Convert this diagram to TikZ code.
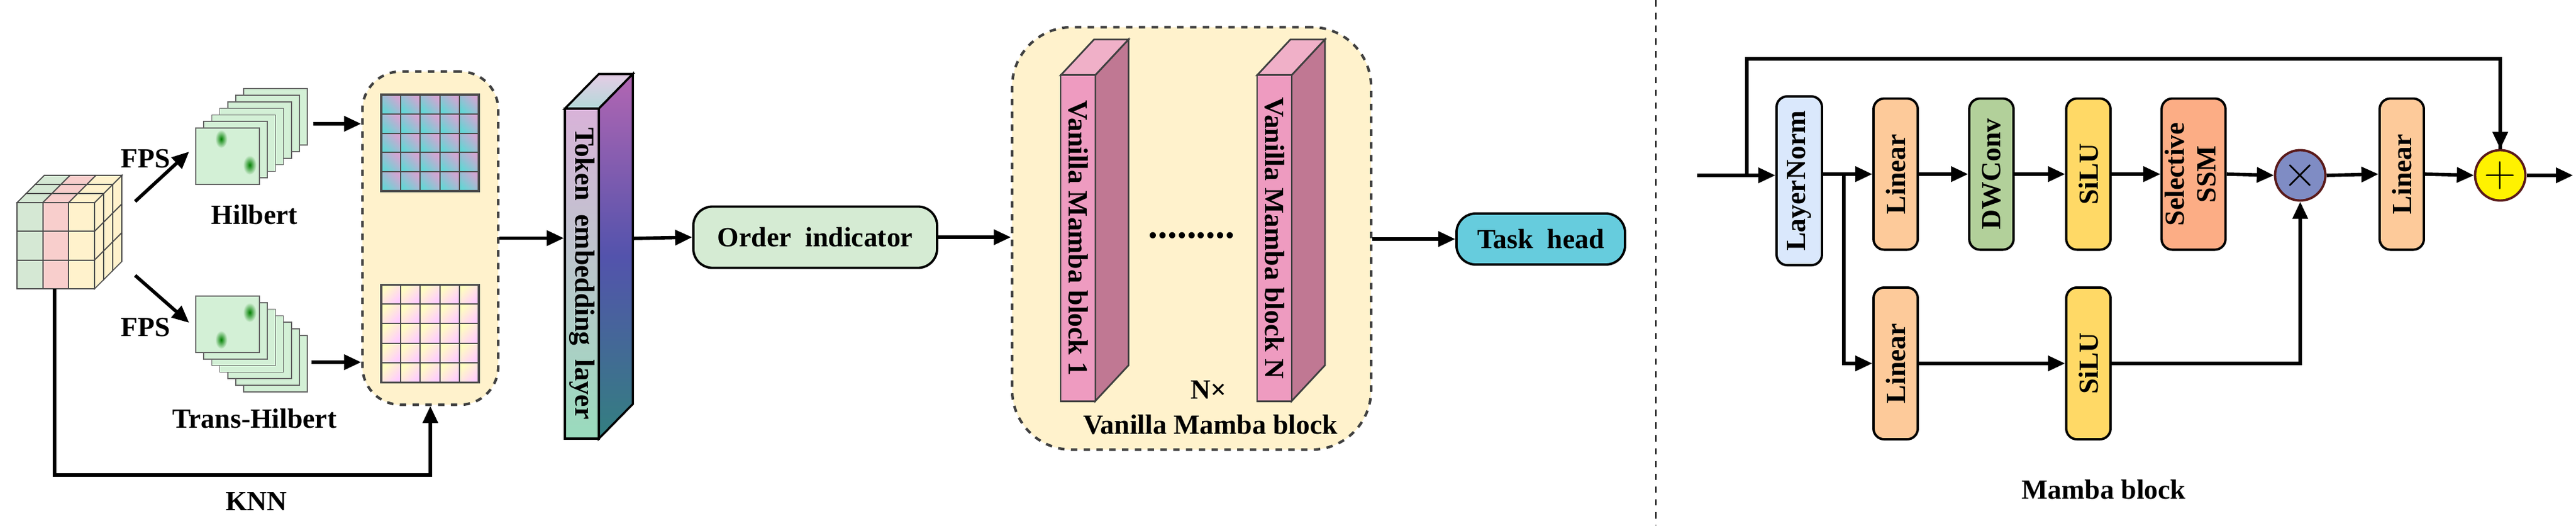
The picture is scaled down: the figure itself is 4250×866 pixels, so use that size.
\documentclass[tikz,border=0pt]{standalone}
\usepackage{fontspec}
\setmainfont{Liberation Serif}
\usetikzlibrary{arrows.meta,shapes.geometric}
\definecolor{cg}{HTML}{D5E8D4}
\definecolor{cp}{HTML}{F8CECC}
\definecolor{cy}{HTML}{FFF2CC}
\definecolor{card}{HTML}{D3F0D6}
\definecolor{mf}{HTML}{EE9BC0}
\definecolor{ms}{HTML}{C07893}
\definecolor{mt}{HTML}{F0B0C8}
\definecolor{lnc}{HTML}{DAE8FC}
\definecolor{linc}{HTML}{FDCA9A}
\definecolor{dwc}{HTML}{B2D09A}
\definecolor{siluc}{HTML}{FFD966}
\definecolor{ssmc}{HTML}{FCAD85}
\definecolor{mulc}{HTML}{7F8CC4}
\definecolor{taskc}{HTML}{66CCDD}
\definecolor{ordc}{HTML}{D5EBD3}
\definecolor{dred}{HTML}{5A1A1A}
\tikzset{
  every node/.style={font=\fontsize{13}{15}\selectfont\bfseries},
  arr/.style={line width=1.6pt,-{Triangle[length=8pt,width=7pt]}},
  ln/.style={line width=1.6pt},
  cell/.style={draw=black!70,line width=0.5pt},
  dbox/.style={draw=black!75,dashed,line width=1.2pt,fill=cy},
  blk/.style={draw=black,line width=1.1pt,rounded corners=5pt,inner sep=0pt},
  card/.style={draw=black!60,line width=0.5pt,fill=card},
}
\begin{document}
\begin{tikzpicture}[x=0.01cm,y=-0.01cm]
\useasboundingbox (0,0) rectangle (4250,866);

% ---------- cube ----------
\def\cw{42.67}\def\ch{47.33}
\foreach \i/\c in {0/cg,1/cp,2/cy}{
  \foreach \j in {0,1,2}{
    \draw[cell,fill=\c] (28+\i*\cw,334+\j*\ch) rectangle ++(\cw,\ch);
    \draw[cell,fill=\c] (28+\i*\cw+\j*15,334-\j*15) -- ++(\cw,0) -- ++(15,-15) -- ++(-\cw,0) -- cycle;
    \draw[cell,fill=cy] (156+\j*15,334+\i*\ch-\j*15) -- ++(15,-15) -- ++(0,\ch) -- ++(-15,15) -- cycle;
  }}
\coordinate (cubeU) at (223,332);
\coordinate (cubeD) at (223,454);
\coordinate (cubeB) at (90,476);

% ---------- heat-map stacks ----------
\foreach \k in {6,5,...,1}{
  \draw[card] (323+\k*13.2,211-\k*10.8) rectangle ++(105,93);
  \shade[inner color=green!45!black,outer color=card] (405+\k*13.2,250-\k*10.8) ellipse (6 and 22);
}
\draw[card] (323,211) rectangle ++(105,93);
\node[inner sep=0pt,minimum width=1.05cm,minimum height=0.93cm] (hil) at (375.5,257.5) {};
\shade[inner color=green!50!black,outer color=card] (365,229) ellipse (10 and 15);
\shade[inner color=green!50!black,outer color=card] (412,272) ellipse (11 and 16);
\foreach \k in {6,5,...,1}{
  \draw[card] (323+\k*13.2,488+\k*10.8) rectangle ++(105,93);
  \shade[inner color=green!45!black,outer color=card] (405+\k*13.2,530+\k*10.8) ellipse (6 and 22);
}
\draw[card] (323,488) rectangle ++(105,93);
\node[inner sep=0pt,minimum width=1.05cm,minimum height=0.93cm] (thil) at (375.5,534.5) {};
\shade[inner color=green!50!black,outer color=card] (365,560) ellipse (10 and 15);
\shade[inner color=green!50!black,outer color=card] (412,515) ellipse (11 and 16);
\node (lh) at (420,354) {Hilbert};
\node (lth) at (420,690) {Trans-Hilbert};
\node (fps1) at (240,262) {FPS};
\node (fps2) at (240,540) {FPS};
\draw[arr] (cubeU) -- (312,250);
\draw[arr] (cubeD) -- (312,532);

% ---------- dashed box 1 with grids ----------
\node[dbox,rounded corners=18pt,minimum width=2.24cm,minimum height=5.49cm] (box1) at (710,392.5) {};
\foreach \i in {0,...,4}{\foreach \j in {0,...,4}{
  \shade[left color=violet!35,right color=cyan!45!teal!60,shading angle=-45,draw=black!70,line width=0.6pt]
    (629+\i*32.2,156+\j*31.8) rectangle ++(32.2,31.8);
  \shade[left color=yellow!25,right color=magenta!20,shading angle=45,draw=black!70,line width=0.6pt]
    (629+\i*32.2,469+\j*32.2) rectangle ++(32.2,32.2);
}}
\node[draw=black!70,line width=1pt,inner sep=0pt,minimum width=1.61cm,minimum height=1.59cm] (g1) at (709.5,235.5) {};
\node[draw=black!70,line width=1pt,inner sep=0pt,minimum width=1.61cm,minimum height=1.61cm] (g2) at (709.5,550) {};
\draw[arr] (517,204) -- (box1.west |- 0,204);
\draw[arr] (514,597) -- (box1.west |- 0,597);
\draw[arr] (cubeB) -- (90,783) -| (box1.south);
\node (knn) at (423,827) {KNN};

% ---------- token embedding layer ----------
\fill[top color=violet!20!white,bottom color=teal!30] (932,179) -- ++(56,-57) -- ++(56,0) -- ++(-56,57) -- cycle;
\draw[line width=1pt] (932,179) -- ++(56,-57) -- ++(56,0) -- ++(-56,57) -- cycle;
\shade[top color=violet!60!white,bottom color=teal!60!gray,middle color=blue!35!gray] (988,179) -- ++(56,-57) -- ++(0,544) -- ++(-56,57) -- cycle;
\draw[line width=1pt] (988,179) -- ++(56,-57) -- ++(0,544) -- ++(-56,57) -- cycle;
\shade[top color=violet!30,middle color=cyan!40!blue!40,bottom color=green!30!teal!40] (932,179) rectangle (988,723);
\node[draw,line width=1pt,inner sep=0pt,minimum width=0.56cm,minimum height=5.44cm] (tok) at (960,451) {\rotatebox{-90}{Token\ \ embedding\ \ layer}};
\draw[arr] (box1.east) -- (box1.east -| tok.west);
\coordinate (tokr) at (1044,393);

% ---------- order indicator ----------
\node[blk,rounded corners=9pt,fill=ordc,minimum width=4.02cm,minimum height=1.01cm] (ord) at (1345,391) {Order\ \ indicator};
\draw[arr] (tokr) -- (ord.west);

% ---------- dashed box 2 ----------
\node[dbox,rounded corners=28pt,minimum width=5.92cm,minimum height=6.96cm] (box2) at (1966,393) {};
\foreach \x/\nm/\t in {1750/b1/{Vanilla Mamba block 1},2074/bN/{Vanilla Mamba block N}}{
  \fill[mt,draw=black!75,line width=0.8pt] (\x,124) -- ++(55,-59) -- ++(57,0) -- ++(-55,59) -- cycle;
  \fill[ms,draw=black!75,line width=0.8pt] (\x+57,124) -- ++(55,-59) -- ++(0,537) -- ++(-55,59) -- cycle;
  \node[fill=mf,draw=black!75,line width=0.8pt,inner sep=0pt,minimum width=0.57cm,minimum height=5.37cm] (\nm) at (\x+28.5,392.5) {\rotatebox{-90}{\t}};
}
\node (dots) at (1966,388) {\fontsize{18}{18}\selectfont .........};
\node (nx) at (1994,643) {N×};
\node (vmb) at (1997,700) {Vanilla Mamba block};
\draw[arr] (ord.east) -- (box2.west |- ord.east);

% ---------- task head ----------
\node[blk,rounded corners=9pt,fill=taskc,minimum width=2.78cm,minimum height=0.84cm] (task) at (2542,394) {Task\ \ head};
\draw[arr] (box2.east |- task.west) -- (task.west);

% ---------- separator ----------
\draw[dashed,line width=0.7pt] (2732,0) -- (2732,866);

% ---------- Mamba block ----------
\node[blk,fill=lnc,minimum width=0.75cm,minimum height=2.78cm] (lnorm) at (2968.5,298) {\rotatebox{90}{LayerNorm}};
\node[blk,fill=linc,minimum width=0.73cm,minimum height=2.49cm] (lin1) at (3127.5,287) {\rotatebox{90}{Linear}};
\node[blk,fill=dwc,minimum width=0.73cm,minimum height=2.49cm] (dw) at (3285.5,287) {\rotatebox{90}{DWConv}};
\node[blk,fill=siluc,minimum width=0.73cm,minimum height=2.49cm] (silu1) at (3445.5,287) {\rotatebox{90}{SiLU}};
\node[blk,fill=ssmc,minimum width=1.04cm,minimum height=2.49cm] (ssm) at (3619,287) {\rotatebox{90}{\begin{tabular}{@{}c@{}}Selective\\SSM\end{tabular}}};
\node[circle,draw=dred,line width=1.1pt,fill=mulc,minimum size=0.83cm,inner sep=0pt,font=\fontsize{22}{22}\selectfont] (mul) at (3795,289) {$\times$};
\node[blk,fill=linc,minimum width=0.73cm,minimum height=2.49cm] (lin3) at (3962.5,287) {\rotatebox{90}{Linear}};
\node[circle,draw=dred,line width=1.1pt,fill=yellow,minimum size=0.83cm,inner sep=0pt,font=\fontsize{22}{22}\selectfont] (plus) at (4125,289) {$+$};
\node[blk,fill=linc,minimum width=0.73cm,minimum height=2.5cm] (lin2) at (3127.5,599) {\rotatebox{90}{Linear}};
\node[blk,fill=siluc,minimum width=0.73cm,minimum height=2.5cm] (silu2) at (3445.5,599) {\rotatebox{90}{SiLU}};
\node (mlab) at (3471,807) {Mamba block};

\coordinate (in) at (2800,289);
\coordinate (skip) at (2882,289);
\coordinate (br) at (3042,289);
\coordinate (out) at (4245,289);
\draw[arr] (in) -- (in -| lnorm.west);
\draw[ln] (skip) -- (2882,97) -| (plus.north);
\draw[arr] (4125,200) -- (plus.north);
\draw[arr] (lnorm.east |- lin1.west) -- (lin1.west);
\draw[arr] (br) |- (lin2.west);
\draw[arr] (lin1.east) -- (dw.west);
\draw[arr] (dw.east) -- (silu1.west);
\draw[arr] (silu1.east) -- (ssm.west);
\draw[arr] (ssm.east) -- (mul.west);
\draw[arr] (mul.east) -- (lin3.west);
\draw[arr] (lin3.east) -- (plus.west);
\draw[arr] (plus.east) -- (out);
\draw[arr] (lin2.east) -- (silu2.west);
\draw[arr] (silu2.east) -| (mul.south);
\end{tikzpicture}
\end{document}
